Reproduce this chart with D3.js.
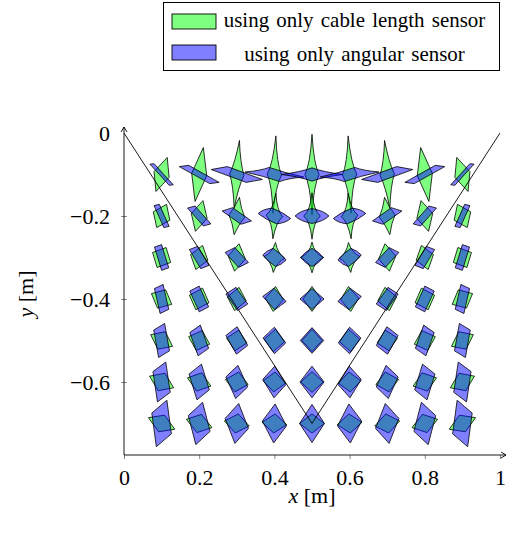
<!DOCTYPE html>
<html><head><meta charset="utf-8">
<script src="https://cdn.jsdelivr.net/npm/d3@7/dist/d3.min.js"></script>
<style>body{margin:0;background:#fff}</style>
</head><body>
<svg id="c" width="513" height="533" xmlns="http://www.w3.org/2000/svg"></svg>
<script>
// grid of evaluated positions [m]
const gridX = [0.1,0.2,0.3,0.4,0.5,0.6,0.7,0.8,0.9];
const gridY = [-0.1,-0.2,-0.3,-0.4,-0.5,-0.6,-0.7];
// uncertainty regions: two half-diagonals [d1x,d1y,d2x,d2y] in mm, one row per gridY
const cableDiag = [
 [[20,-7,-15,-41],[20,-3,-11,-65],[19,-2,-7,-82],[19,-1,-4,-93],[19,0,0,-97],[19,1,4,-93],[19,2,7,-82],[20,3,11,-65],[20,7,15,-41]],
 [[22,-10,-13,-28],[21,-6,-10,-37],[21,-3,-7,-45],[22,-2,-4,-55],[22,0,0,-56],[22,2,4,-55],[21,3,7,-45],[21,6,10,-37],[22,10,13,-28]],
 [[24,-12,-12,-24],[23,-7,-9,-29],[23,-4,-6,-33],[28,-2,-3,-36],[31,0,0,-37],[28,2,3,-36],[23,4,6,-33],[23,7,9,-29],[24,12,12,-24]],
 [[27,-13,-11,-22],[26,-9,-9,-26],[25,-5,-6,-28],[24,-2,-3,-30],[24,0,0,-30],[24,2,3,-30],[25,5,6,-28],[26,9,9,-26],[27,13,11,-22]],
 [[29,-14,-10,-21],[28,-9,-8,-24],[27,-6,-5,-25],[27,-3,-3,-27],[27,0,0,-27],[27,3,3,-27],[27,6,5,-25],[28,9,8,-24],[29,14,10,-21]],
 [[32,-14,-9,-21],[31,-10,-7,-22],[30,-6,-5,-24],[30,-3,-2,-24],[30,0,0,-25],[30,3,2,-24],[30,6,5,-24],[31,10,7,-22],[32,14,9,-21]],
 [[35,-14,-8,-20],[34,-10,-6,-22],[33,-6,-4,-23],[33,-3,-2,-23],[33,0,0,-23],[33,3,2,-23],[33,6,4,-23],[34,10,6,-22],[35,14,8,-20]]
];
const angleDiag = [
 [[20,-26,-31,25],[28,-22,-53,19],[25,-19,-68,12],[14,-17,-78,6],[0,-16,-81,0],[-14,-17,-78,-6],[-25,-19,-68,-12],[-28,-22,-53,-19],[-20,-26,-31,-25]],
 [[6,-28,-20,25],[11,-24,-31,19],[11,-20,-39,12],[6,-19,-43,6],[0,-18,-45,0],[-6,-19,-43,-6],[-11,-20,-39,-12],[-11,-24,-31,-19],[-6,-28,-20,-25]],
 [[0,-31,-19,25],[4,-27,-26,19],[5,-24,-31,12],[3,-22,-31,6],[0,-22,-30,0],[-3,-22,-31,-6],[-5,-24,-31,-12],[-4,-27,-26,-19],[0,-31,-19,-25]],
 [[-4,-35,-19,25],[0,-31,-25,19],[2,-28,-29,12],[1,-26,-31,6],[0,-25,-32,0],[-1,-26,-31,-6],[-2,-28,-29,-12],[0,-31,-25,-19],[4,-35,-19,-25]],
 [[-8,-41,-21,25],[-3,-37,-25,19],[-1,-33,-29,12],[0,-32,-30,6],[0,-31,-31,0],[0,-32,-30,-6],[1,-33,-29,-12],[3,-37,-25,-19],[8,-41,-21,-25]],
 [[-11,-48,-23,25],[-6,-43,-27,19],[-3,-40,-29,12],[-1,-38,-31,6],[0,-38,-32,0],[1,-38,-31,-6],[3,-40,-29,-12],[6,-43,-27,-19],[11,-48,-23,-25]],
 [[-14,-56,-26,25],[-9,-51,-29,19],[-5,-48,-31,12],[-2,-47,-32,6],[0,-46,-33,0],[2,-47,-32,-6],[5,-48,-31,-12],[9,-51,-29,-19],[14,-56,-26,-25]]
];
// edge bulge of each region (negative = concave sides), rows 1-3; lower rows are straight
const cableBend = [
 [0,0,-0.3,-0.45,-0.5,-0.45,-0.3,0,0],
 [0,0,-0.2,-0.5,-0.55,-0.5,-0.2,0,0],
 [0,0,0,-0.45,-0.55,-0.45,0,0,0]
];
const angleBend = [
 [0,0,0,-0.2,-0.25,-0.2,0,0,0],
 [0,0,0,0.3,0.4,0.3,0,0,0],
 [0,0,0,0.2,0.25,0.2,0,0,0]
];
// cable geometry drawn as line
const cablePath = [[0,0],[0.5,-0.7],[1,0]];
const xTicks = [0,0.2,0.4,0.6,0.8,1];
const yTicks = [0,-0.2,-0.4,-0.6];
const seriesNames = ["using only cable length sensor","using only angular sensor"];
const seriesColors = ["#00ff00","#0000ff"];

const svg = d3.select("#c");
const x = d3.scaleLinear().domain([0,1]).range([124,500]);
const y = d3.scaleLinear().domain([-0.776,0]).range([455,133]);
const font = "'Liberation Serif', 'Times New Roman', serif";

function shapePath(cx, cy, d, k){
  const c = [x(cx), y(cy)];
  const pts = [[d[0],d[1]],[d[2],d[3]],[-d[0],-d[1]],[-d[2],-d[3]]]
    .map(p => [x(cx + p[0]/1000), y(cy + p[1]/1000)]);
  const p = d3.path();
  p.moveTo(pts[0][0], pts[0][1]);
  for (let i = 0; i < 4; i++) {
    const a = pts[i], b = pts[(i+1)%4];
    const m = [(a[0]+b[0])/2, (a[1]+b[1])/2];
    const q = [m[0] + k*(m[0]-c[0]), m[1] + k*(m[1]-c[1])];
    p.quadraticCurveTo(q[0], q[1], b[0], b[1]);
  }
  p.closePath();
  return p.toString();
}

function drawSeries(data, bend, color){
  const g = svg.append("g");
  gridY.forEach((cy, r) => {
    gridX.forEach((cx, c) => {
      const k = bend[r] ? bend[r][c] : 0;
      g.append("path")
        .attr("d", shapePath(cx, cy, data[r][c], k))
        .attr("fill", color)
        .attr("fill-opacity", 0.5)
        .attr("stroke", "#000")
        .attr("stroke-width", 0.8);
    });
  });
}
drawSeries(cableDiag, cableBend, seriesColors[0]);
drawSeries(angleDiag, angleBend, seriesColors[1]);

svg.append("path")
  .attr("d", d3.line().x(d => x(d[0])).y(d => y(d[1]))(cablePath))
  .attr("fill","none").attr("stroke","#000").attr("stroke-width",0.9);

// axes
const yb = y(-0.776), x0 = x(0);
const xAxis = d3.axisBottom(x).tickValues(xTicks).tickSize(4).tickSizeOuter(0)
  .tickFormat(d => d3.format("")(d));
const gx = svg.append("g").attr("transform", `translate(0,${yb})`).call(xAxis);
gx.select(".domain").remove();
gx.selectAll(".tick line").attr("stroke","#888").attr("y1",0).attr("y2",4);
gx.selectAll(".tick text").attr("font-family",font).attr("font-size",22).attr("fill","#000").attr("y",8).attr("dy","1.0em");

const yAxis = d3.axisLeft(y).tickValues(yTicks).tickSize(3).tickSizeOuter(0)
  .tickFormat(d => d === 0 ? "0" : "\u2212" + d3.format("")(-d));
const gy = svg.append("g").attr("transform", `translate(${x0},0)`).call(yAxis);
gy.select(".domain").remove();
gy.selectAll(".tick line").attr("stroke","#888").attr("x1",-3).attr("x2",3);
gy.selectAll(".tick").filter(d => d === 0).select("line").remove();
gy.selectAll(".tick text").attr("font-family",font).attr("font-size",22).attr("fill","#000").attr("x",-14).attr("dy","0.35em");

// axis lines with arrows
svg.append("line").attr("x1",x0).attr("y1",yb).attr("x2",x0).attr("y2",y(0)-6)
  .attr("stroke","#000").attr("stroke-width",0.9);
svg.append("path").attr("d",`M${x0-3},${y(0)-1} L${x0},${y(0)-6} L${x0+3},${y(0)-1}`)
  .attr("fill","none").attr("stroke","#000").attr("stroke-width",0.9);
svg.append("line").attr("x1",x0).attr("y1",yb).attr("x2",x(1)+6).attr("y2",yb)
  .attr("stroke","#000").attr("stroke-width",0.9);
svg.append("path").attr("d",`M${x(1)+1},${yb-3} L${x(1)+6},${yb} L${x(1)+1},${yb+3}`)
  .attr("fill","none").attr("stroke","#000").attr("stroke-width",0.9);

// axis labels
const xl = svg.append("text").attr("x",(x(0)+x(1))/2).attr("y",503).attr("text-anchor","middle")
  .attr("font-family",font).attr("font-size",22);
xl.append("tspan").attr("font-style","italic").text("x");
xl.append("tspan").text(" [m]");
const yl = svg.append("text").attr("transform",`translate(33,${(y(0)+yb)/2}) rotate(-90)`)
  .attr("text-anchor","middle").attr("font-family",font).attr("font-size",22);
yl.append("tspan").attr("font-style","italic").text("y");
yl.append("tspan").text(" [m]");

// legend
const lg = svg.append("g");
lg.append("rect").attr("x",163.5).attr("y",2.5).attr("width",336).attr("height",68)
  .attr("fill","#fff").attr("stroke","#000").attr("stroke-width",1);
seriesNames.forEach((name,i) => {
  lg.append("rect").attr("x",172).attr("y",14 + i*31).attr("width",44).attr("height",15)
    .attr("fill",seriesColors[i]).attr("fill-opacity",0.5).attr("stroke","#000").attr("stroke-width",0.9);
  const t = lg.append("text").attr("x",354.5).attr("y",27 + i*33.5).attr("text-anchor","middle")
    .attr("font-family",font).attr("font-size",20).attr("word-spacing","2px").text(name);
  if (i === 0) {
    const w = t.node().getComputedTextLength();
    const fs = 20 * 262 / w;
    lg.selectAll("text").attr("font-size", fs);
  } else {
    t.attr("font-size", lg.select("text").attr("font-size"));
  }
});
</script>
</body></html>
